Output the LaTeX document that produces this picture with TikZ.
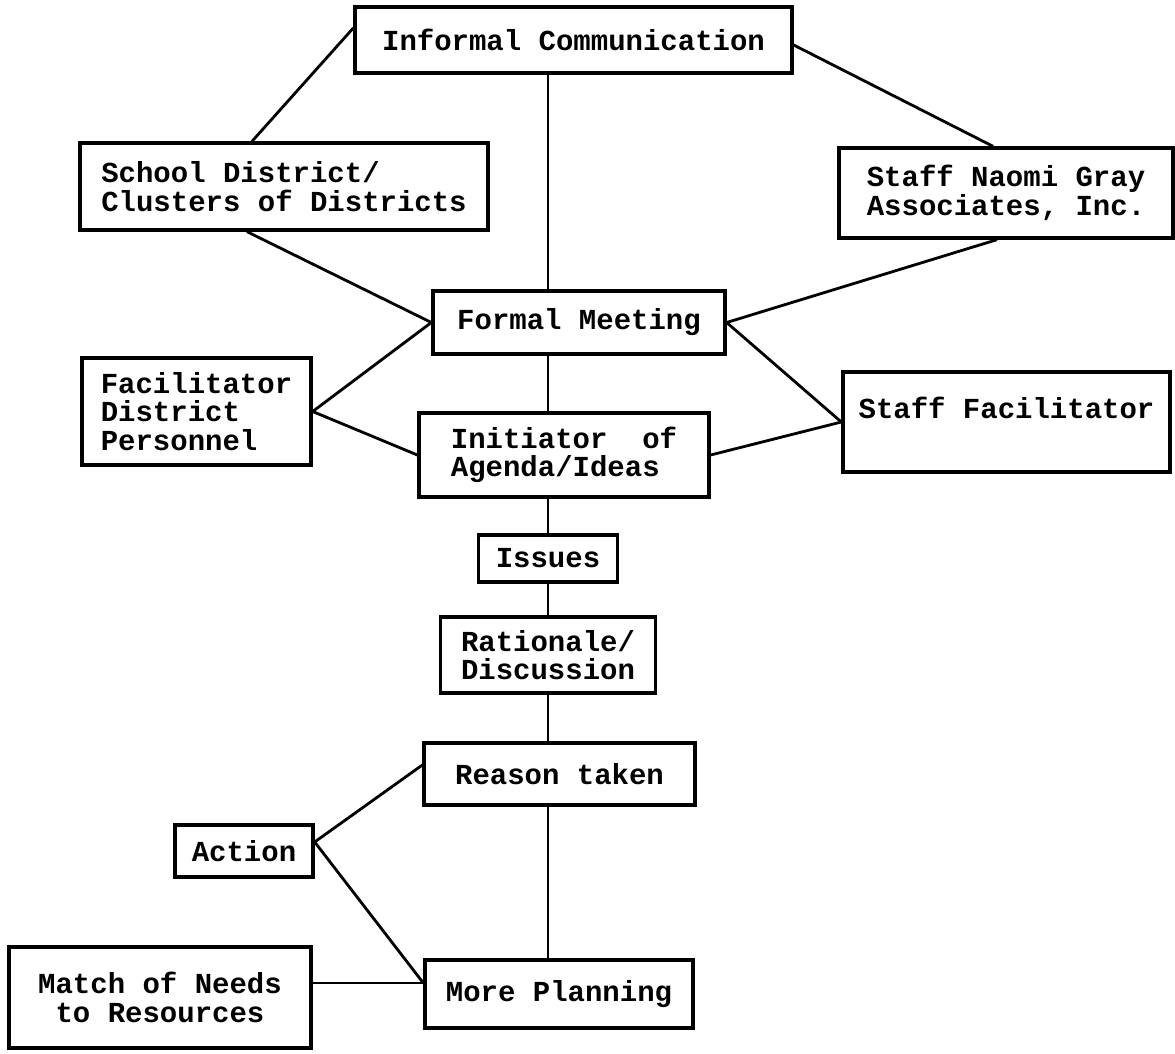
\documentclass[tikz,border=0pt]{standalone}
\usepackage{fontspec}
\setmainfont{Liberation Mono}
\usepackage{tikz}

\begin{document}
\begin{tikzpicture}[
    planbox/.style={rectangle, draw=black, line width=1.9pt, fill=white,
                    inner sep=0pt, align=left,
                    font=\fontsize{16.5pt}{16.2pt}\selectfont\bfseries},
    link/.style={draw=black, line width=1.6pt},
]
\useasboundingbox (0,0) rectangle (23.5,-21.08);
\node[planbox, minimum width=8.74cm, minimum height=1.32cm] (informal) at (11.47,-0.80) {Informal Communication};
\node[planbox, minimum width=8.16cm, minimum height=1.74cm] (school) at (5.68,-3.73) {School District/\\Clusters of Districts};
\node[planbox, minimum width=6.68cm, minimum height=1.80cm] (naomi) at (20.12,-3.86) {Staff Naomi Gray\\Associates, Inc.};
\node[planbox, minimum width=5.84cm, minimum height=1.26cm] (formal) at (11.58,-6.45) {Formal Meeting};
\node[planbox, minimum width=4.58cm, minimum height=2.14cm] (facil) at (3.93,-8.23) {Facilitator\\District\\Personnel};
\node[planbox, minimum width=5.80cm, minimum height=1.68cm] (initiator) at (11.28,-9.10) {Initiator\ \ of\\Agenda/Ideas};
\node[planbox, minimum width=6.54cm, minimum height=2.00cm] (stafffac) at (20.13,-8.44) {Staff Facilitator\\\phantom{S}};
\node[planbox, minimum width=2.78cm, minimum height=0.94cm] (issues) at (10.96,-11.17) {Issues};
\node[planbox, minimum width=4.30cm, minimum height=1.52cm] (rationale) at (10.96,-13.10) {Rationale/\\Discussion};
\node[planbox, minimum width=5.42cm, minimum height=1.24cm] (reason) at (11.19,-15.48) {Reason taken};
\node[planbox, minimum width=2.76cm, minimum height=1.04cm] (action) at (4.88,-17.02) {Action};
\node[planbox, minimum width=5.36cm, minimum height=1.36cm] (planning) at (11.18,-19.88) {More Planning};
\node[planbox, align=center, minimum width=6.04cm, minimum height=2.02cm] (match) at (3.20,-19.95) {Match of Needs\\to Resources};
\draw[link] ([yshift=0.24cm]informal.west) -- ([xshift=-0.64cm]school.north);
\draw[link] (informal.south -| issues.north) -- (formal.north -| issues.north);
\draw[link] ([yshift=-0.1cm]informal.east) -- ([xshift=-0.26cm]naomi.north);
\draw[link] ([xshift=-0.74cm]school.south) -- (formal.west);
\draw[link] ([xshift=-0.18cm]naomi.south) -- (formal.east);
\draw[link] (facil.east) -- (formal.west);
\draw[link] (facil.east) -- (initiator.west);
\draw[link] (formal.east) -- (stafffac.west);
\draw[link] (initiator.east) -- (stafffac.west);
\draw[link] (formal.south -| issues.north) -- (initiator.north -| issues.north);
\draw[link] (initiator.south -| issues.north) -- (issues.north);
\draw[link] (issues.south) -- (rationale.north);
\draw[link] (rationale.south) -- (rationale.south |- reason.north);
\draw[link] (rationale.south |- reason.south) -- (rationale.south |- planning.north);
\draw[link] ([yshift=0.18cm]reason.west) -- ([yshift=0.18cm]action.east);
\draw[link] ([yshift=0.18cm]action.east) -- ([yshift=0.22cm]planning.west);
\draw[link] ([yshift=0.22cm]planning.west) -- ([yshift=0.22cm]planning.west -| match.east);
\end{tikzpicture}
\end{document}
